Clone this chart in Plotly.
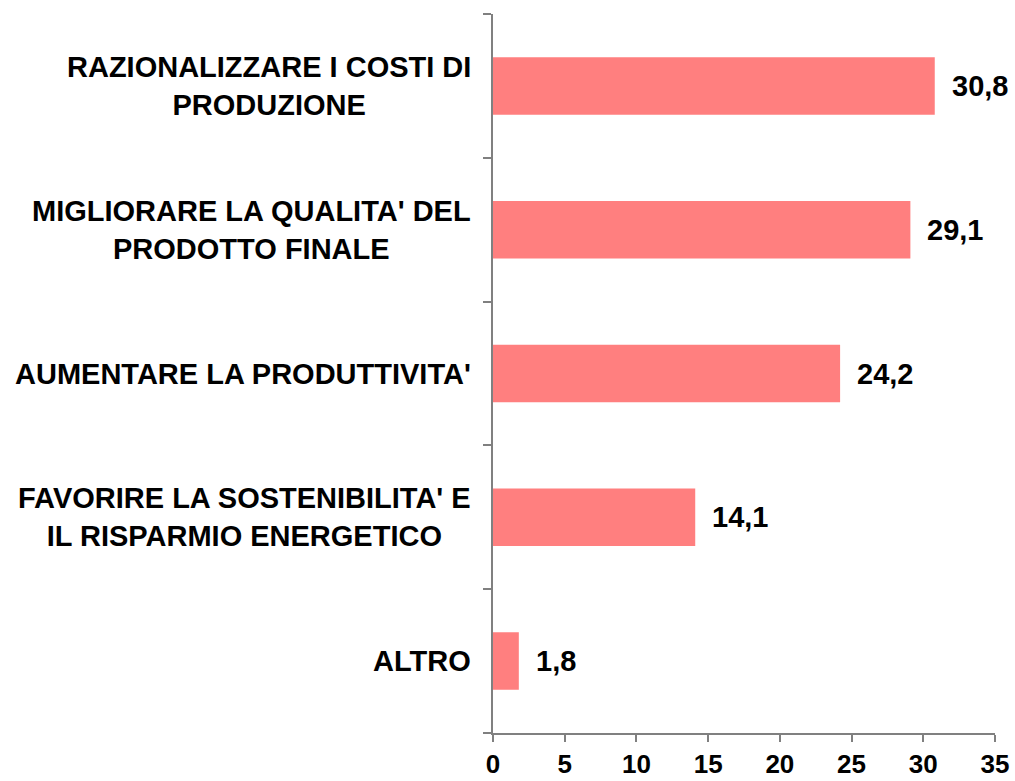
import plotly.graph_objects as go

categories = [
    "ALTRO",
    "FAVORIRE LA SOSTENIBILITA' E<br>IL RISPARMIO ENERGETICO",
    "AUMENTARE LA PRODUTTIVITA'",
    "MIGLIORARE LA QUALITA' DEL<br>PRODOTTO FINALE",
    "RAZIONALIZZARE I COSTI DI<br>PRODUZIONE",
]
values = [1.8, 14.1, 24.2, 29.1, 30.8]
x_ticks = [0, 5, 10, 15, 20, 25, 30, 35]

FONT = "Liberation Sans, Arial, sans-serif"
FS = 29

fig = go.Figure()
fig.add_trace(go.Bar(
    y=categories, x=values, orientation="h",
    marker=dict(color="#FF7F7F", line=dict(width=0)),
    width=0.4, hoverinfo="skip",
))

annotations = []
for c in categories:
    annotations.append(dict(
        xref="paper", yref="y", x=0, y=c, text=f"<b>{c}</b>",
        showarrow=False, xanchor="right", yanchor="middle", align="center",
        xshift=-20, font=dict(family=FONT, size=FS, color="black"),
    ))
for c, v in zip(categories, values):
    annotations.append(dict(
        xref="x", yref="y", x=v, y=c, text="<b>" + f"{v:.1f}".replace(".", ",") + "</b>",
        showarrow=False, xanchor="left", yanchor="middle",
        xshift=15, font=dict(family=FONT, size=FS, color="black"),
    ))

fig.update_layout(
    width=1015, height=781,
    margin=dict(l=493, r=20, t=14, b=48, pad=0),
    paper_bgcolor="white", plot_bgcolor="white",
    showlegend=False,
    annotations=annotations,
    font=dict(family=FONT, size=FS, color="black"),
)
fig.update_xaxes(
    range=[0, 35], tickvals=x_ticks, ticktext=[f"<b>{t}</b>" for t in x_ticks],
    showgrid=False, zeroline=False, showline=True, linecolor="#808080", linewidth=2,
    ticks="outside", ticklen=7, tickwidth=2, tickcolor="#808080",
    tickfont=dict(family=FONT, size=26, color="black"), automargin=False,
)
fig.update_yaxes(
    categoryorder="array", categoryarray=categories, range=[-0.5, 4.5],
    showticklabels=False, tickson="boundaries", automargin=False,
    showgrid=False, zeroline=False, showline=True, linecolor="#808080", linewidth=2,
    ticks="outside", ticklen=8, tickwidth=2, tickcolor="#808080",
)

fig.write_html(
    "out.html",
    config={"displayModeBar": False, "staticPlot": True},
    post_script="document.body.style.margin='0';document.body.style.overflow='hidden';",
)
